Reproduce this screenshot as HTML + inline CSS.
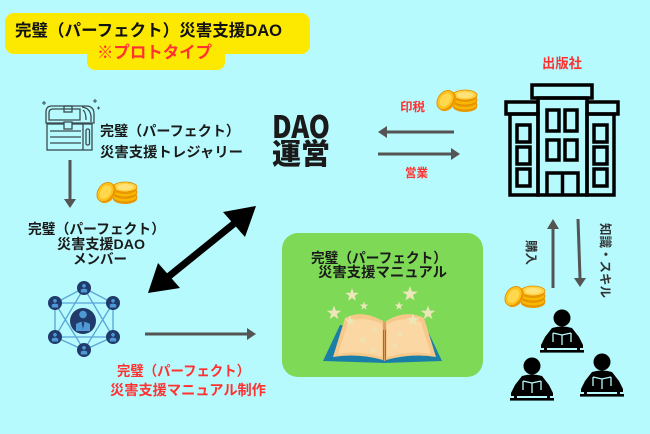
<!DOCTYPE html>
<html><head><meta charset="utf-8">
<style>
html,body{margin:0;padding:0;background:#b7fafd;}
svg{display:block;}
text{font-family:"Liberation Sans","Noto Sans CJK JP",sans-serif;font-weight:bold;}
.jp{font-family:"Noto Sans CJK JP","Liberation Sans",sans-serif;font-weight:bold;}
</style></head>
<body>
<svg width="650" height="434" viewBox="0 0 650 434" xmlns="http://www.w3.org/2000/svg">
<defs>
  <g id="coins">
    <ellipse cx="32" cy="19" rx="12" ry="5" fill="#e99a00"/>
    <ellipse cx="32" cy="17" rx="12" ry="5" fill="#f8b800" stroke="#e08a00" stroke-width="0.8"/>
    <ellipse cx="32" cy="14" rx="12" ry="5" fill="#e99a00"/>
    <ellipse cx="32" cy="12" rx="12" ry="5" fill="#f8b800" stroke="#e08a00" stroke-width="0.8"/>
    <ellipse cx="32" cy="9" rx="12" ry="5" fill="#e99a00"/>
    <ellipse cx="32" cy="7" rx="12" ry="5" fill="#ffd23f" stroke="#e08a00" stroke-width="0.8"/>
    <ellipse cx="32" cy="7" rx="8" ry="3" fill="#ffe27a"/>
    <ellipse cx="14" cy="13" rx="8" ry="11" transform="rotate(35 14 13)" fill="#f29d00"/>
    <ellipse cx="12.5" cy="12" rx="7.5" ry="10.5" transform="rotate(35 12.5 12)" fill="#ffc21a" stroke="#e08a00" stroke-width="0.8"/>
    <ellipse cx="12.5" cy="12" rx="5" ry="7.5" transform="rotate(35 12.5 12)" fill="#ffd84d"/>
  </g>
  <g id="person">
    <circle cx="0" cy="0" r="8.5" fill="#000"/>
    <path d="M-10,10 Q0,7 10,10 L17,19 L21,27 L21,30 L-21,30 L-21,27 L-17,19 Z" fill="#000"/>
    <path d="M-9,15 L0,17 L9,15 M0,17 L0,27 M-9,15 L-9,24 M9,15 L9,24" stroke="#b7fafd" stroke-width="1.3" fill="none"/>
    <rect x="-18" y="29" width="3" height="3" fill="#000"/>
    <rect x="15" y="29" width="3" height="3" fill="#000"/>
    <rect x="-22" y="32" width="44" height="2.6" fill="#000"/>
  </g>
  <g id="node">
    <circle cx="0" cy="0" r="7" fill="#1f3a6b"/>
    <circle cx="0" cy="-2.2" r="1.8" fill="#4e98d4"/>
    <path d="M-3.2,4.5 L-3.2,1.5 Q0,-0.2 3.2,1.5 L3.2,4.5 Z" fill="#4e98d4"/>
  </g>
  <path id="star" d="M0,-5 L1.2,-1.6 L4.8,-1.5 L1.9,0.7 L2.9,4.1 L0,2.1 L-2.9,4.1 L-1.9,0.7 L-4.8,-1.5 L-1.2,-1.6 Z"/>
</defs>

<rect width="650" height="434" fill="#b7fafd"/>

<!-- title label -->
<rect x="5" y="13" width="305" height="41" rx="9" fill="#fde900"/>
<rect x="87" y="36" width="138" height="34" rx="8" fill="#fde900"/>
<text x="15" y="36" font-size="16.5" fill="#111" textLength="267" lengthAdjust="spacingAndGlyphs">完璧（パーフェクト）災害支援DAO</text>
<text x="97" y="58" font-size="16.5" fill="#ff3131" textLength="115" lengthAdjust="spacingAndGlyphs">※プロトタイプ</text>

<!-- treasure chest -->
<g fill="none" stroke="#3b4b50" stroke-width="1.3">
  <path d="M46,123 L46,112 Q46,106 52,106 L86,106 Q94,106 94,114 L94,123 Z"/>
  <path d="M49,120 L49,113 Q49,109 53,109 L80,109 L80,120 Z"/>
  <path d="M82,107 Q90,108 91,116 L91,122"/>
  <path d="M83,110 Q86,112 86,120"/>
  <rect x="64" y="106" width="8" height="6"/>
  <rect x="47" y="124" width="45" height="26"/>
  <line x1="50" y1="131" x2="81" y2="131"/>
  <line x1="50" y1="137" x2="81" y2="137"/>
  <line x1="50" y1="143" x2="81" y2="143"/>
  <line x1="83" y1="124" x2="83" y2="150"/>
  <rect x="86" y="129" width="3.5" height="16" rx="1.5"/>
  <rect x="64" y="122" width="8" height="7" fill="#b7fafd"/>
  <path d="M42,103 l4,0 M44,101 l0,4 M93,101 l4,0 M95,99 l0,4 M97,108 l3,0 M98.5,106.5 l0,3" stroke-width="1"/>
</g>
<text x="100" y="136" font-size="14" fill="#1a1a1a" textLength="140" lengthAdjust="spacingAndGlyphs">完璧（パーフェクト）</text>
<text x="100" y="157" font-size="14" fill="#1a1a1a" textLength="143" lengthAdjust="spacingAndGlyphs">災害支援トレジャリー</text>

<!-- down arrow -->
<line x1="70" y1="160" x2="70" y2="200" stroke="#545454" stroke-width="3"/>
<polygon points="64,199 76,199 70,208" fill="#545454"/>

<use href="#coins" x="93" y="180"/>

<text x="28" y="234" font-size="14" fill="#1a1a1a" textLength="137" lengthAdjust="spacingAndGlyphs">完璧（パーフェクト）</text>
<text x="57" y="249" font-size="14" fill="#1a1a1a" textLength="88" lengthAdjust="spacingAndGlyphs">災害支援DAO</text>
<text x="73" y="264" font-size="14" fill="#1a1a1a" textLength="54" lengthAdjust="spacingAndGlyphs">メンバー</text>

<!-- DAO 運営 -->
<text class="jp" x="272" y="138" font-size="31" font-weight="900" fill="#1a1a1a" style="font-weight:900" textLength="58" lengthAdjust="spacingAndGlyphs">DAO</text>
<text class="jp" x="272" y="164" font-size="29" fill="#1a1a1a" style="font-weight:900" textLength="58" lengthAdjust="spacingAndGlyphs">運営</text>

<!-- royalty / sales arrows -->
<text x="400" y="111" font-size="12" fill="#ff3131" textLength="25" lengthAdjust="spacingAndGlyphs">印税</text>
<use href="#coins" x="433" y="88"/>
<line x1="454" y1="132" x2="386" y2="132" stroke="#545454" stroke-width="3"/>
<polygon points="387,126 387,138 378,132" fill="#545454"/>
<line x1="378" y1="154" x2="451" y2="154" stroke="#545454" stroke-width="3"/>
<polygon points="451,148 451,160 460,154" fill="#545454"/>
<text x="405" y="177" font-size="12" fill="#ff3131" textLength="23" lengthAdjust="spacingAndGlyphs">営業</text>

<!-- publisher -->
<text x="542" y="68" font-size="13.5" fill="#ff3131" textLength="40" lengthAdjust="spacingAndGlyphs">出版社</text>
<g fill="none" stroke="#000" stroke-width="3.5">
  <rect x="532" y="85" width="60" height="13"/>
  <rect x="538" y="98" width="49" height="97"/>
  <rect x="506" y="102" width="32" height="12"/>
  <rect x="510" y="114" width="28" height="81"/>
  <rect x="587" y="102" width="31" height="12"/>
  <rect x="587" y="114" width="27" height="81"/>
  <rect x="547" y="110" width="12" height="21"/>
  <rect x="565" y="110" width="12" height="21"/>
  <rect x="547" y="140" width="12" height="20"/>
  <rect x="565" y="140" width="12" height="20"/>
  <path d="M547,195 L547,173 L578,173 L578,195 M562.5,173 L562.5,195"/>
  <rect x="517" y="125" width="13" height="17"/>
  <rect x="517" y="147" width="13" height="17"/>
  <rect x="517" y="169" width="13" height="17"/>
  <rect x="594" y="125" width="13" height="17"/>
  <rect x="594" y="147" width="13" height="17"/>
  <rect x="594" y="169" width="13" height="17"/>
</g>

<!-- double arrow -->
<line x1="168" y1="277" x2="236" y2="222" stroke="#000" stroke-width="7"/>
<polygon points="148,293 158,263 180,288" fill="#000"/>
<polygon points="256,206 223,212 245,237" fill="#000"/>

<!-- network -->
<g stroke="#5aa5d8" stroke-width="1.3" fill="none">
  <polygon points="84,288 113,303 113,337 84,350 55,337 55,303"/>
  <polygon points="84,288 113,337 55,337"/>
  <polygon points="84,350 55,303 113,303"/>
</g>
<circle cx="83" cy="321" r="13" fill="#1f3a6b"/>
<circle cx="83" cy="314.5" r="3.8" fill="#4e98d4"/>
<path d="M76,331 L76,324 Q83,319.5 90,324 L90,331 Z" fill="#4e98d4"/>
<path d="M83,321 L84.3,323 L83,329 L81.7,323 Z" fill="#1f3a6b"/>
<use href="#node" x="84" y="288"/>
<use href="#node" x="55" y="303"/>
<use href="#node" x="113" y="303"/>
<use href="#node" x="55" y="337"/>
<use href="#node" x="113" y="337"/>
<use href="#node" x="84" y="350"/>

<!-- bottom arrow -->
<line x1="145" y1="334" x2="247" y2="334" stroke="#545454" stroke-width="3"/>
<polygon points="247,328 247,340 256,334" fill="#545454"/>

<text x="117" y="376" font-size="14" fill="#ff3131" textLength="133" lengthAdjust="spacingAndGlyphs">完璧（パーフェクト）</text>
<text x="110" y="395" font-size="14" fill="#ff3131" textLength="156" lengthAdjust="spacingAndGlyphs">災害支援マニュアル制作</text>

<!-- green manual box -->
<rect x="282" y="233" width="201" height="144" rx="16" fill="#7ed957"/>
<text x="311" y="263" font-size="14" fill="#1a1a1a" textLength="136" lengthAdjust="spacingAndGlyphs">完璧（パーフェクト）</text>
<text x="318" y="277" font-size="14" fill="#1a1a1a" textLength="129" lengthAdjust="spacingAndGlyphs">災害支援マニュアル</text>

<!-- book -->
<path d="M340,325 L384,330 L425,325 L442,361 L384,363 L323,361 Z" fill="#1b7ea6"/>
<path d="M333,357 L345,318 Q362,309 383,321 L383,360 Q357,353 333,357 Z" fill="#f6c98a"/>
<path d="M436,357 L424,318 Q406,309 386,321 L386,360 Q412,353 436,357 Z" fill="#f6c98a"/>
<path d="M338,354 L348,322 Q363,315 382,324 L382,357 Q358,350 338,354 Z" fill="#fad7a3"/>
<path d="M431,354 L421,322 Q406,315 387,324 L387,357 Q411,350 431,354 Z" fill="#fad7a3"/>
<line x1="384.5" y1="322" x2="384.5" y2="361" stroke="#d9a066" stroke-width="1.5"/>
<g fill="#ece6b8">
  <use href="#star" transform="translate(352,295) scale(1.4)"/>
  <use href="#star" transform="translate(364,306) scale(0.9)"/>
  <use href="#star" transform="translate(334,313) scale(1.5)"/>
  <use href="#star" transform="translate(350,321) scale(1.1)"/>
  <use href="#star" transform="translate(410,294) scale(1.6)"/>
  <use href="#star" transform="translate(399,306) scale(0.9)"/>
  <use href="#star" transform="translate(428,313) scale(1.5)"/>
  <use href="#star" transform="translate(413,320) scale(1.3)"/>
  <use href="#star" transform="translate(375,330) scale(0.8)" opacity="0.7"/>
  <use href="#star" transform="translate(363,340) scale(0.9)" opacity="0.7"/>
  <use href="#star" transform="translate(400,334) scale(0.9)" opacity="0.7"/>
  <use href="#star" transform="translate(395,345) scale(0.8)" opacity="0.7"/>
  <use href="#star" transform="translate(373,350) scale(0.8)" opacity="0.7"/>
</g>

<!-- purchase / knowledge arrows -->
<line x1="553" y1="288" x2="553" y2="228" stroke="#545454" stroke-width="3"/>
<polygon points="547,229 559,229 553,219" fill="#545454"/>
<line x1="578" y1="219" x2="580" y2="278" stroke="#545454" stroke-width="3"/>
<polygon points="574,278 586,278 580,287" fill="#545454"/>
<text transform="translate(527,240) rotate(90)" font-size="12" fill="#333" textLength="25" lengthAdjust="spacingAndGlyphs">購入</text>
<text transform="translate(601,223) rotate(90)" font-size="12.5" fill="#333" textLength="75" lengthAdjust="spacingAndGlyphs">知識・スキル</text>
<use href="#coins" x="501" y="284"/>

<!-- readers -->
<use href="#person" x="562" y="318"/>
<use href="#person" x="532" y="366"/>
<use href="#person" x="602" y="362"/>
</svg>
</body></html>
